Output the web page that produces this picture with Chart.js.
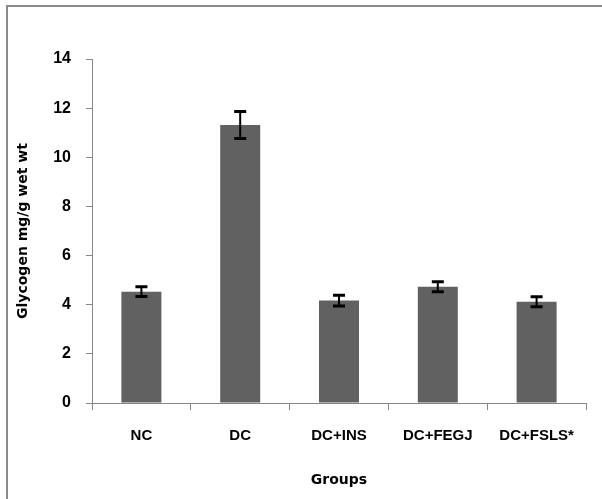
<!DOCTYPE html>
<html>
<head>
<meta charset="utf-8">
<script src="https://cdn.jsdelivr.net/npm/chart.js@4"></script>
<style>
  body { margin: 0; background: #fff; }
  #wrap { position: relative; width: 602px; height: 499px; overflow: hidden; }
  #frame { position: absolute; left: 6px; top: 5px; width: 600px; height: 500px;
           border-left: 2px solid #8a8a8a; border-top: 2px solid #8a8a8a; }
  canvas { position: absolute; left: 0; top: 0; }
</style>
</head>
<body>
<div id="wrap">
  <div id="frame"></div>
  <canvas id="myChart" width="602" height="499"></canvas>
</div>
<script>
const grupos = ['NC', 'DC', 'DC+INS', 'DC+FEGJ', 'DC+FSLS*'];
const glicogenio = [4.53, 11.31, 4.17, 4.73, 4.12];
const erros = [0.2, 0.55, 0.22, 0.2, 0.2];
const yTicks = [0, 2, 4, 6, 8, 10, 12, 14];

const cinzaEixo = '#868686';

// desenha barras de erro usando a escala y do gráfico
const errorBars = {
  id: 'errorBars',
  afterDatasetsDraw(chart) {
    const ctx = chart.ctx;
    const y = chart.scales.y;
    const meta = chart.getDatasetMeta(0);
    ctx.save();
    meta.data.forEach((bar, i) => {
      const v = glicogenio[i];
      const e = erros[i];
      const yTop = y.getPixelForValue(v + e);
      const yBot = y.getPixelForValue(v - e);
      ctx.strokeStyle = '#000';
      ctx.lineWidth = 2;
      ctx.beginPath();
      ctx.moveTo(bar.x, yTop);
      ctx.lineTo(bar.x, yBot);
      ctx.stroke();
      ctx.lineWidth = 3;
      ctx.beginPath();
      ctx.moveTo(bar.x - 6, yTop);
      ctx.lineTo(bar.x + 6, yTop);
      ctx.moveTo(bar.x - 6, yBot);
      ctx.lineTo(bar.x + 6, yBot);
      ctx.stroke();
    });
    ctx.restore();
  }
};

const ctx = document.getElementById('myChart').getContext('2d');
const chart = new Chart(ctx, {
  type: 'bar',
  data: {
    labels: grupos,
    datasets: [{
      data: glicogenio,
      backgroundColor: '#616161',
      borderWidth: 0,
      categoryPercentage: 1,
      barPercentage: 0.405
    }]
  },
  options: {
    responsive: false,
    animation: false,
    layout: { padding: { top: 59, right: 16, bottom: 0, left: 0 } },
    plugins: {
      legend: { display: false },
      tooltip: { enabled: false }
    },
    scales: {
      x: {
        afterFit: s => { s.height = 96; },
        grid: { offset: true, drawOnChartArea: false, color: cinzaEixo, tickLength: 7 },
        border: { color: cinzaEixo, width: 1 },
        ticks: { color: '#000', padding: 17, maxRotation: 0,
                 font: { family: 'Liberation Sans', size: 15, weight: 'bold' } },
        title: { display: true, text: 'Groups', color: '#000',
                 padding: { top: 10, bottom: 10 },
                 font: { family: 'DejaVu Sans', size: 14, weight: 'bold' } }
      },
      y: {
        min: 0,
        max: 14,
        afterFit: s => { s.width = 92; },
        afterBuildTicks: s => { s.ticks = yTicks.map(v => ({ value: v })); },
        grid: { drawOnChartArea: false, color: cinzaEixo, tickLength: 6 },
        border: { color: cinzaEixo, width: 1 },
        ticks: { color: '#000', padding: 15,
                 font: { family: 'Liberation Sans', size: 16, weight: 'bold' } },
        title: { display: true, text: 'Glycogen mg/g wet wt', color: '#000',
                 padding: { top: 15, bottom: 0 },
                 font: { family: 'DejaVu Sans', size: 14, weight: 'bold' } }
      }
    }
  },
  plugins: [errorBars]
});
</script>
</body>
</html>
